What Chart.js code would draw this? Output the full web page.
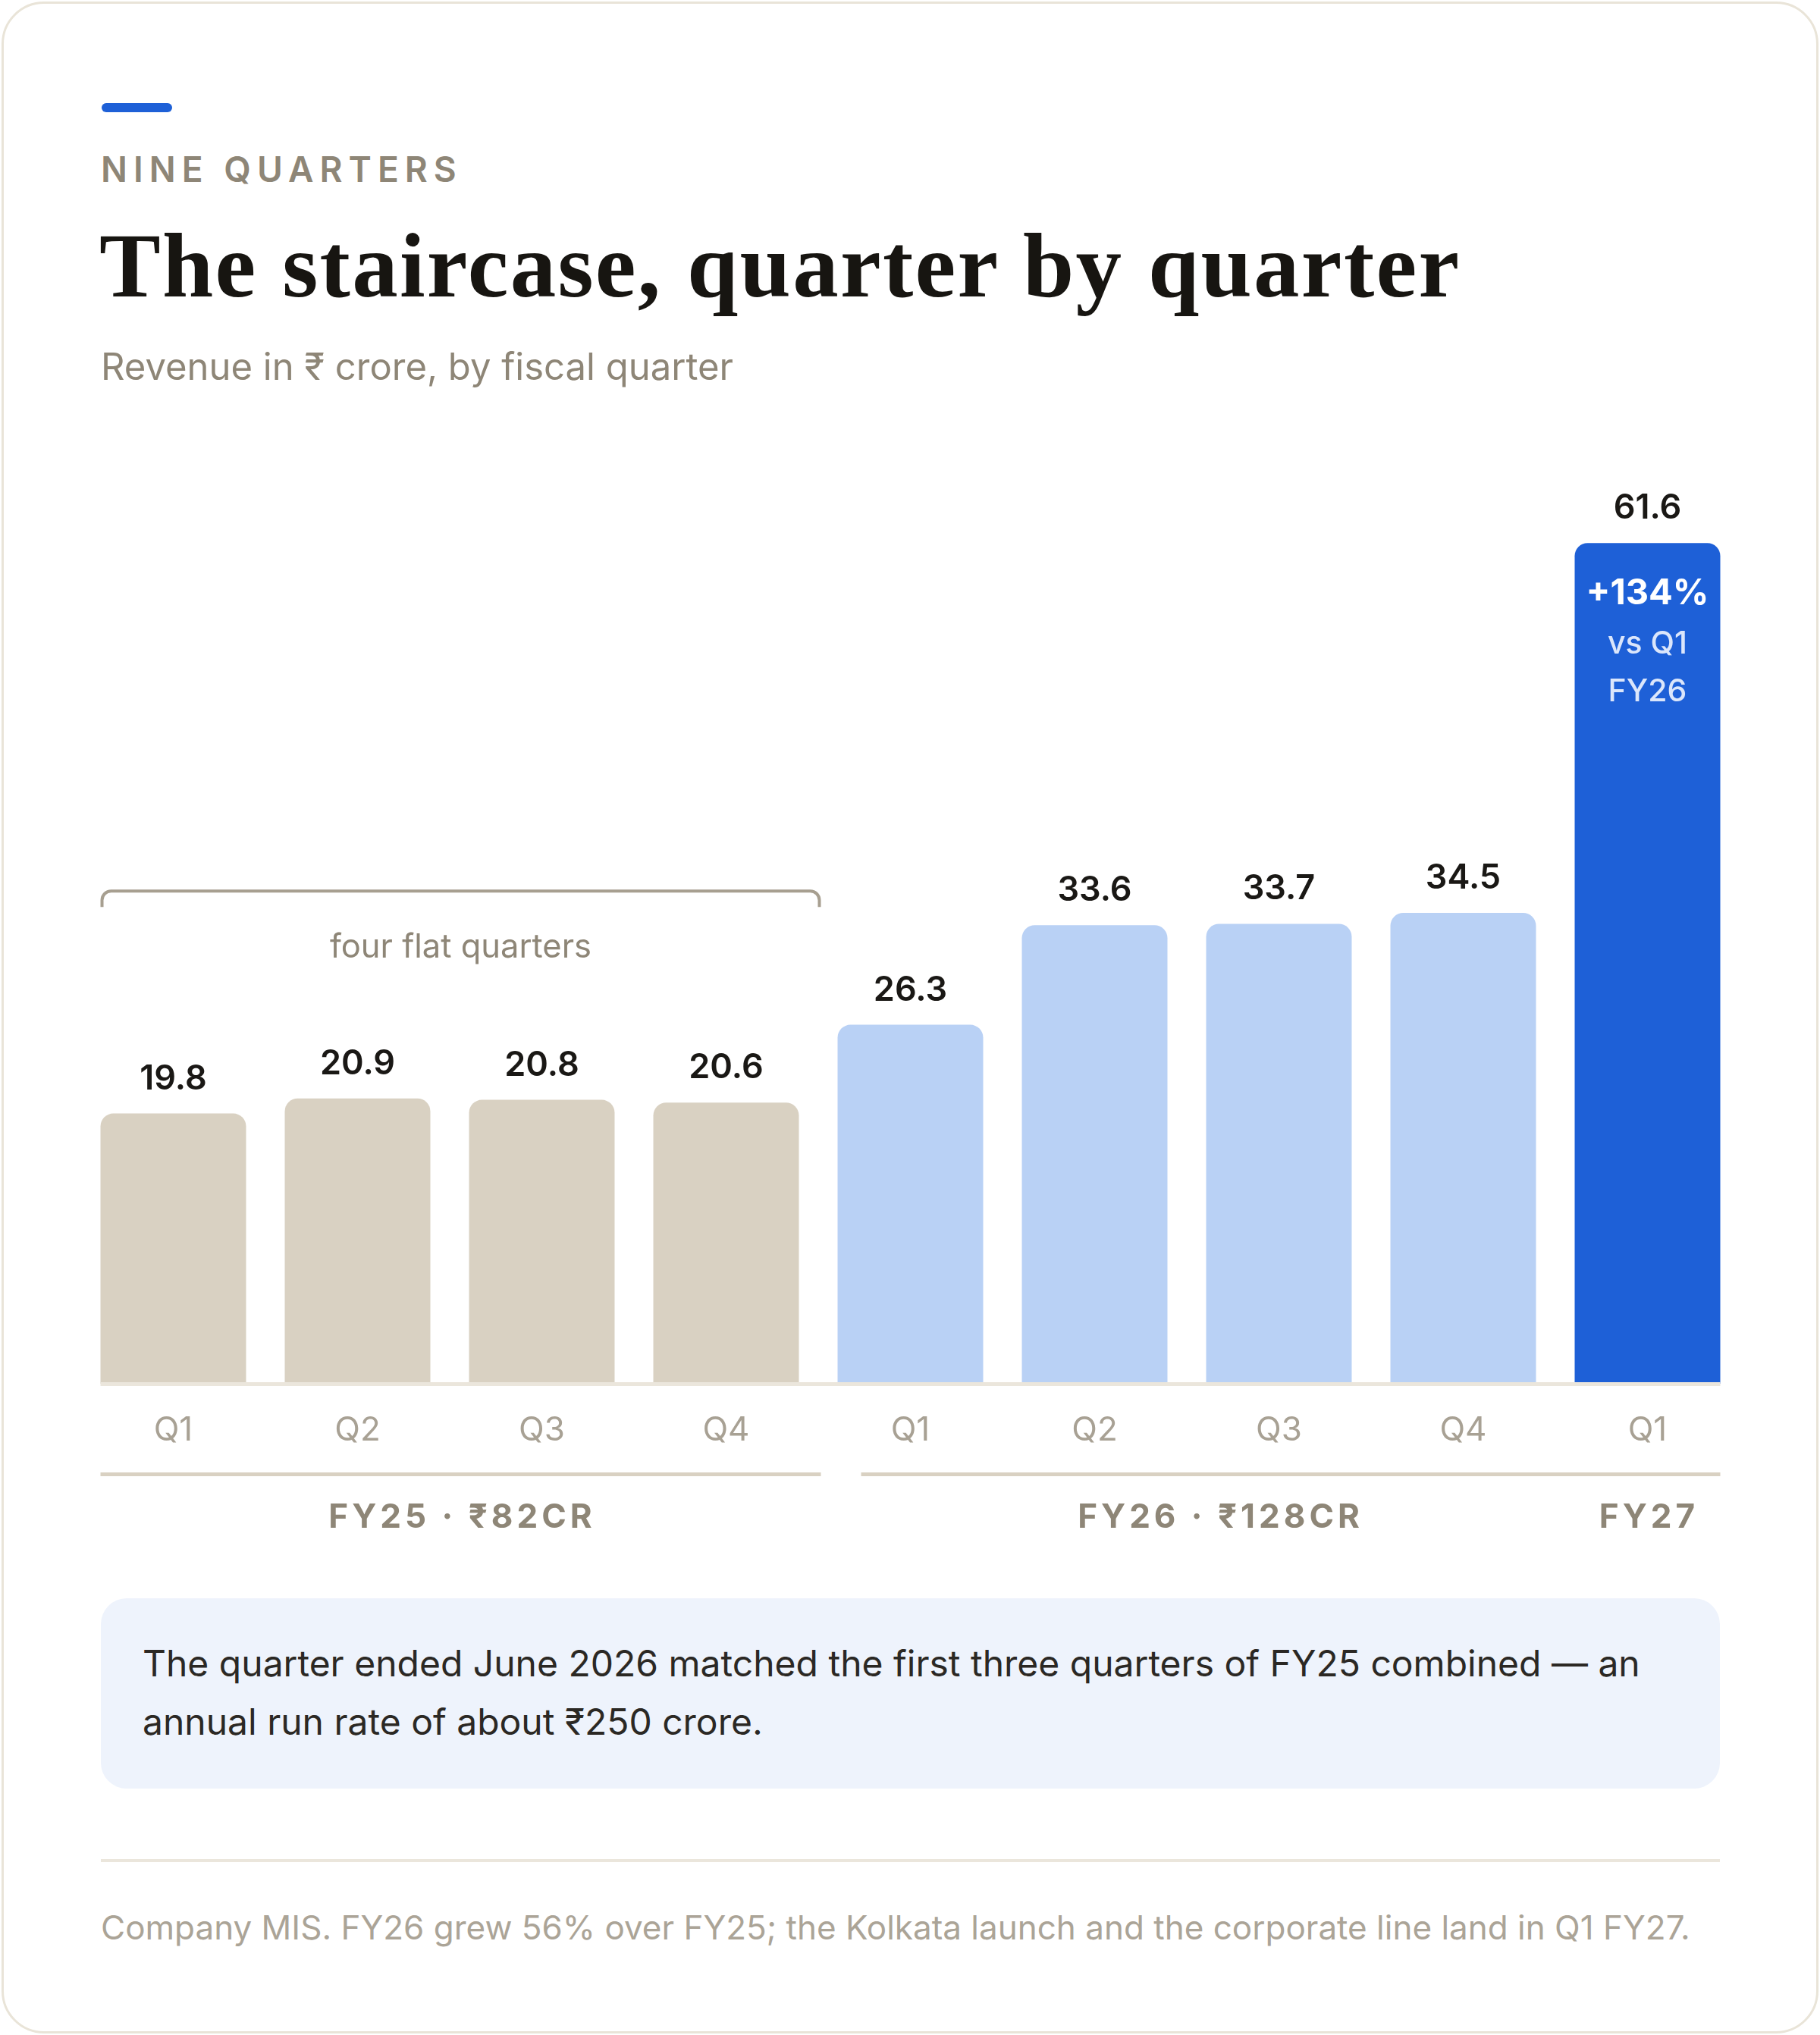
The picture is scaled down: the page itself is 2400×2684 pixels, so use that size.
<!DOCTYPE html>
<html>
<head>
<meta charset="utf-8">
<script src="https://cdn.jsdelivr.net/npm/chart.js@4.4.1/dist/chart.umd.min.js"></script>
<style>
  html, body { margin: 0; padding: 0; background: #fff; }
  body { width: 2400px; height: 2684px; position: relative; overflow: hidden; font-family: Inter, "Noto Sans", sans-serif; }
  .card { position: absolute; left: 2px; top: 2px; width: 2390px; height: 2674px; border: 3px solid #e9e4d8; border-radius: 56px; background: #fff; }
  .abs { position: absolute; line-height: 1; white-space: nowrap; }
  .accent { left: 134px; top: 136px; width: 93px; height: 12px; border-radius: 6px; background: #1e60d7; }
  .eyebrow { left: 133px; top: 200px; font-size: 46px; font-weight: 600; letter-spacing: 0.175em; color: #8e8677; }
  .title { left: 131px; top: 290px; font-family: "Liberation Serif", "DejaVu Serif", serif; font-weight: 700; font-size: 121px; letter-spacing: 2.3px; color: #171511; }
  .subtitle { left: 133px; top: 459px; font-size: 49px; color: #8e8677; }
  #wrap { position: absolute; left: 107px; top: 565px; width: 2187px; height: 1495px; }
  .note { left: 133px; top: 2108px; width: 2135px; height: 251px; box-sizing: border-box; padding: 47px 55px 0 55px; border-radius: 34px; background: #eef3fc; font-size: 48px; line-height: 77px; color: #2b2824; white-space: normal; }
  .rule { left: 133px; top: 2452px; width: 2135px; height: 4px; background: #ebe6dc; }
  .foot { left: 133px; top: 2520px; font-size: 44px; color: #aba497; }
</style>
</head>
<body>
<div class="card"></div>
<div class="abs accent"></div>
<div class="abs eyebrow">NINE QUARTERS</div>
<div class="abs title">The staircase, quarter by quarter</div>
<div class="abs subtitle">Revenue in ₹ crore, by fiscal quarter</div>
<div id="wrap"><canvas id="chart" width="2187" height="1495"></canvas></div>
<div class="abs note">The quarter ended June 2026 matched the first three quarters of FY25 combined — an annual run rate of about ₹250 crore.</div>
<div class="abs rule"></div>
<div class="abs foot">Company MIS. FY26 grew 56% over FY25; the Kolkata launch and the corporate line land in Q1 FY27.</div>
<script>
const quarters = ['Q1', 'Q2', 'Q3', 'Q4', 'Q1', 'Q2', 'Q3', 'Q4', 'Q1'];
const fiscalYears = ['FY25', 'FY25', 'FY25', 'FY25', 'FY26', 'FY26', 'FY26', 'FY26', 'FY27'];
const revenue = [19.8, 20.9, 20.8, 20.6, 26.3, 33.6, 33.7, 34.5, 61.6];
const yearLabels = ['FY25 · ₹82CR', 'FY26 · ₹128CR', 'FY27'];
const growthNote = ['+134%', 'vs Q1', 'FY26'];
const bracketNote = 'four flat quarters';

const yearColors = { FY25: '#d9d1c2', FY26: '#b9d1f5', FY27: '#1e60d7' };

// annotations drawn around the bars, positioned from the bar elements
const decorations = {
  id: 'decorations',
  afterDatasetsDraw(chart) {
    const ctx = chart.ctx;
    const bars = chart.getDatasetMeta(0).data;
    const left = i => bars[i].x - bars[i].width / 2;
    const right = i => bars[i].x + bars[i].width / 2;
    const base = chart.chartArea.bottom;

    ctx.save();
    // baseline
    ctx.fillStyle = '#ebe6dc';
    ctx.fillRect(left(0), base - 2, right(8) - left(0), 5);

    // value labels
    ctx.font = '600 45px Inter';
    ctx.fillStyle = '#1a1815';
    ctx.textAlign = 'center';
    ctx.textBaseline = 'alphabetic';
    bars.forEach((b, i) => ctx.fillText(revenue[i].toFixed(1), b.x, b.y - 32));

    // text inside the last bar
    const last = bars[8];
    ctx.fillStyle = '#ffffff';
    ctx.font = '700 47px Inter';
    ctx.fillText(growthNote[0], last.x, last.y + 81);
    ctx.fillStyle = '#dbe6fb';
    ctx.font = '500 41px Inter';
    ctx.fillText(growthNote[1], last.x, last.y + 146);
    ctx.fillText(growthNote[2], last.x, last.y + 209);

    // bracket over FY25
    const bx0 = left(0), bx1 = right(3) + 29;
    const by = chart.scales.y.getPixelForValue(36.1);
    const r = 12;
    ctx.strokeStyle = '#a79f90';
    ctx.lineWidth = 4;
    ctx.beginPath();
    ctx.moveTo(bx0 + 2, by + 21);
    ctx.lineTo(bx0 + 2, by + r);
    ctx.arcTo(bx0 + 2, by, bx0 + 2 + r, by, r);
    ctx.lineTo(bx1 - 2 - r, by);
    ctx.arcTo(bx1 - 2, by, bx1 - 2, by + r, r);
    ctx.lineTo(bx1 - 2, by + 21);
    ctx.stroke();
    ctx.fillStyle = '#8e8677';
    ctx.font = '400 43.5px Inter';
    ctx.fillText(bracketNote, (bx0 + bx1) / 2, by + 88);

    // fiscal year group rules and labels
    const gy = base + 120;
    const groups = [
      { x0: left(0), x1: right(3) + 29 },
      { x0: left(4) + 31, x1: right(8) }
    ];
    ctx.fillStyle = '#d9d1c2';
    groups.forEach(g => ctx.fillRect(g.x0, gy - 3, g.x1 - g.x0, 5));

    ctx.fillStyle = '#8e8677';
    ctx.font = '700 44px Inter';
    ctx.letterSpacing = '5px';
    const centers = [
      (groups[0].x0 + groups[0].x1) / 2,
      left(4) + 503,
      bars[8].x
    ];
    yearLabels.forEach((t, i) => ctx.fillText(t, centers[i] + 2, gy + 70));
    ctx.restore();
  }
};

new Chart(document.getElementById('chart'), {
  type: 'bar',
  data: {
    labels: quarters,
    datasets: [{
      data: revenue,
      backgroundColor: fiscalYears.map(f => yearColors[f]),
      borderRadius: { topLeft: 17, topRight: 17, bottomLeft: 0, bottomRight: 0 },
      borderSkipped: false,
      barPercentage: 0.79,
      categoryPercentage: 1
    }]
  },
  options: {
    responsive: false,
    animation: false,
    devicePixelRatio: 1,
    layout: { padding: 0 },
    plugins: { legend: { display: false }, tooltip: { enabled: false } },
    scales: {
      y: { display: false, min: 0, max: 70 },
      x: {
        grid: { display: false },
        border: { display: false },
        ticks: {
          color: '#a8a194',
          font: { family: 'Inter', size: 44, weight: '400', lineHeight: 1 },
          padding: 32,
          maxRotation: 0,
          autoSkip: false
        },
        afterFit(scale) { scale.height = 1495 - 1260; }
      }
    }
  },
  plugins: [decorations]
});
</script>
</body>
</html>
